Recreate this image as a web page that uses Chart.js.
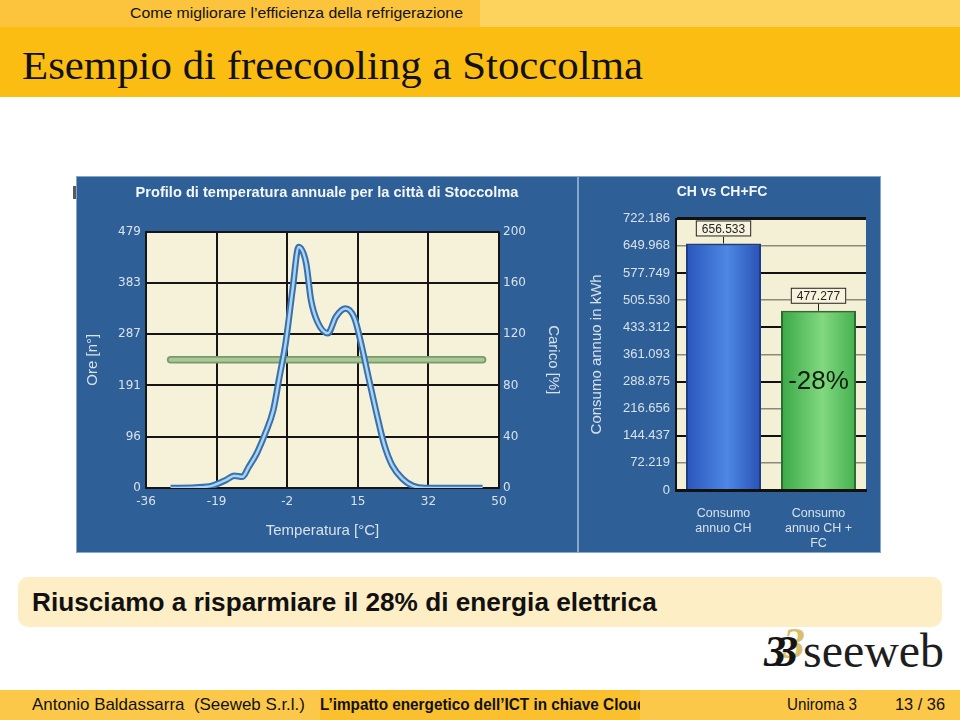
<!DOCTYPE html>
<html lang="it">
<head>
<meta charset="utf-8">
<title>Esempio di freecooling a Stoccolma</title>
<script src="https://cdn.jsdelivr.net/npm/chart.js@4.4.1/dist/chart.umd.min.js"></script>
<style>
  html, body { margin: 0; padding: 0; }
  body { width: 960px; height: 720px; position: relative; overflow: hidden; background: #fff;
         font-family: "Liberation Sans", Arial, sans-serif; color: #111; }
  .abs { position: absolute; }
  .fit { display: inline-block; white-space: nowrap; transform-origin: 0 50%; }
  #testataSx { left: 0; top: 0; width: 480px; height: 27px; background: #fbc43c; }
  #testataDx { left: 480px; top: 0; width: 480px; height: 27px; background: #fdd35e; }
  #sezione { left: 130px; top: 0; line-height: 27px; font-size: 14px; }
  #fascia { left: 0; top: 27px; width: 960px; height: 70px; background: #fbbd12; }
  #titolo { left: 22px; top: 46px; font-family: "Liberation Serif", "Times New Roman", serif; font-size: 40px; line-height: 40px; }
  #puntino { left: 73px; top: 186px; width: 4px; height: 13px; background: #5a5a5a; }
  .pannello { top: 176px; height: 377px; background: #2e6097; }
  .pannello canvas { position: absolute; left: 0; top: 0; }
  .cornice { top: 176px; height: 377px; box-shadow: inset 0 0 0 1px #86a6cc; pointer-events: none; }
  #pannelloT { left: 76px; width: 502px; }
  #pannelloC { left: 578px; width: 303px; }
  #blocco { left: 18px; top: 577px; width: 924px; height: 50px; background: #fdeec6; border-radius: 10px; }
  #bloccoTesto { left: 32px; top: 577px; line-height: 50px; font-size: 25px; font-weight: bold; }
  #logo { left: 803px; top: 627px; font-family: "Liberation Serif", "Times New Roman", serif; font-size: 48px; line-height: 48px; color: #1e1e1e; }
  .tre { font-family: "Liberation Serif", serif; font-style: italic; font-weight: bold; font-size: 44px; line-height: 44px; }
  #piede1 { left: 0; top: 690px; width: 320px; height: 30px; background: #fcc84a; }
  #piede2 { left: 320px; top: 690px; width: 320px; height: 30px; background: #fbc02e; overflow: hidden; }
  #piede3 { left: 640px; top: 690px; width: 320px; height: 30px; background: #fcc84a; }
  .piedeTesto { top: 690px; line-height: 30px; font-size: 17px; }
</style>
</head>
<body>
<div class="abs" id="testataSx"></div>
<div class="abs" id="testataDx"></div>
<div class="abs" id="sezione"><span class="fit" data-w="333">Come migliorare l’efficienza della refrigerazione</span></div>
<div class="abs" id="fascia"></div>
<div class="abs" id="titolo"><span class="fit" data-w="621">Esempio di freecooling a Stoccolma</span></div>

<div class="abs" id="puntino"></div>
<div class="abs pannello" id="pannelloT"><canvas id="graficoTemperatura" width="502" height="377"></canvas></div>
<div class="abs pannello" id="pannelloC"><canvas id="graficoConsumi" width="303" height="377"></canvas></div>
<div class="abs cornice" style="left:76px;width:502px"></div>
<div class="abs cornice" style="left:578px;width:303px"></div>

<div class="abs" id="blocco"></div>
<div class="abs" id="bloccoTesto"><span class="fit" data-w="625">Riusciamo a risparmiare il 28% di energia elettrica</span></div>

<div class="abs tre" style="left:783px;top:622px;color:#d9bf6a">3</div>
<div class="abs tre" style="left:764px;top:630px;color:#151515">3</div>
<div class="abs tre" style="left:776px;top:630px;color:#151515">3</div>
<div class="abs" id="logo"><span class="fit" data-w="141">seeweb</span></div>

<div class="abs" id="piede1"></div>
<div class="abs" id="piede2"><div class="abs" style="left:0;top:0;line-height:30px;font-size:17px;font-weight:bold;white-space:nowrap;transform:scaleX(0.9);transform-origin:0 50%">L’impatto energetico dell’ICT in chiave Cloud Computing</div></div>
<div class="abs" id="piede3"></div>
<div class="abs piedeTesto" style="left:32px"><span class="fit" data-w="273">Antonio Baldassarra&nbsp;&nbsp;(Seeweb S.r.l.)</span></div>
<div class="abs piedeTesto" style="left:787px"><span class="fit" data-w="70">Uniroma 3</span></div>
<div class="abs piedeTesto" style="left:895px"><span class="fit" data-w="50">13 / 36</span></div>

<script>
// Profilo di temperatura (ore per temperatura)
const tempC = [-30, -24, -20, -16.5, -14.5, -12.5, -11, -9, -7, -5, -3.5, -2, -0.3, 1.2, 3, 4.2, 5.8, 8.3, 10.3, 12.6, 14.8, 16.4, 18, 20, 22, 24, 26.5, 29, 32, 46];
const oreH  = [0, 1, 4, 15, 23, 21, 39, 65, 101, 145, 207, 270, 370, 450, 420, 351, 310, 289, 320, 335, 317, 270, 214, 145, 82, 42, 17, 4, 0, 0];
// Carico (asse destro)
const caricoX   = [-30, 46];
const caricoPct = [100, 100];
// Etichette degli assi
const xTicks       = ['-36', '-19', '-2', '15', '32', '50'];
const oreTicks     = ['0', '96', '191', '287', '383', '479'];
const caricoTicks  = ['0', '40', '80', '120', '160', '200'];

// CH vs CH+FC
const categorie     = [['Consumo', 'annuo CH'], ['Consumo', 'annuo CH +', 'FC']];
const consumo       = [656533, 477277];
const consumoMax    = 722186;
const consumoTicks  = ['0', '72.219', '144.437', '216.656', '288.875', '361.093', '433.312', '505.530', '577.749', '649.968', '722.186'];
const risparmio     = '-28%';

const coloriBarre = [['#2a55bb', '#4d88e4', '#2a52b4'], ['#3aa846', '#82d97f', '#45b04f']];
const bordiBarre  = ['#1c3c86', '#2c6b32'];
const chiaro = '#d8e1ec';
const famiglia = '"Liberation Sans", Arial, sans-serif';

Chart.defaults.font.family = famiglia;

function formatta(v) {
  return String(v).replace(/\B(?=(\d{3})+(?!\d))/g, '.');
}

// sfondo crema dell'area del grafico
const sfondoArea = {
  id: 'sfondoArea',
  beforeDraw(chart, args, opts) {
    const a = chart.chartArea;
    const ctx = chart.ctx;
    ctx.save();
    ctx.fillStyle = opts.color;
    ctx.fillRect(a.left, a.top, a.right - a.left, a.bottom - a.top);
    ctx.restore();
  }
};

// etichette con riquadro sopra le barre + percentuale
const etichetteBarre = {
  id: 'etichetteBarre',
  afterDatasetsDraw(chart) {
    const ctx = chart.ctx;
    const meta = chart.getDatasetMeta(0);
    meta.data.forEach((bar, i) => {
      const testo = formatta(consumo[i]);
      ctx.save();
      ctx.font = '12px ' + famiglia;
      const w = ctx.measureText(testo).width + 12;
      const h = 16;
      const top = bar.y - 7 - h;
      ctx.strokeStyle = '#222';
      ctx.lineWidth = 1;
      ctx.beginPath();
      ctx.moveTo(bar.x, top + h);
      ctx.lineTo(bar.x, bar.y);
      ctx.stroke();
      ctx.fillStyle = '#f7f3dc';
      ctx.fillRect(bar.x - w / 2, top, w, h);
      ctx.strokeRect(bar.x - w / 2 + 0.5, top + 0.5, w - 1, h - 1);
      ctx.fillStyle = '#222';
      ctx.textAlign = 'center';
      ctx.textBaseline = 'middle';
      ctx.fillText(testo, bar.x, top + h / 2 + 1);
      if (i === 1) {
        ctx.font = '26px ' + famiglia;
        ctx.fillStyle = '#102010';
        ctx.fillText(risparmio, bar.x, bar.y + (bar.base - bar.y) * 0.4);
      }
      ctx.restore();
    });
  }
};

function tickUniformi(lista) {
  return s => {
    s.ticks = lista.map((_, i) => ({ value: s.min + i * (s.max - s.min) / (lista.length - 1) }));
  };
}

function gradienteBarra(c) {
  const chart = c.chart;
  const cols = coloriBarre[c.dataIndex];
  if (!chart.chartArea) return cols[1];
  const xs = chart.scales.x;
  const cx = xs.getPixelForValue(c.dataIndex);
  const half = xs.width / categorie.length * 0.79 / 2;
  const g = chart.ctx.createLinearGradient(cx - half, 0, cx + half, 0);
  g.addColorStop(0, cols[0]);
  g.addColorStop(0.55, cols[1]);
  g.addColorStop(1, cols[2]);
  return g;
}

const puntiOre = tempC.map((t, i) => ({ x: t, y: oreH[i] }));
const puntiCarico = caricoX.map((t, i) => ({ x: t, y: caricoPct[i] }));

new Chart(document.getElementById('graficoTemperatura'), {
  type: 'line',
  data: {
    datasets: [
      { label: 'Ore', data: puntiOre, yAxisID: 'y', borderColor: '#a8d4f5', borderWidth: 2.5, pointRadius: 0, cubicInterpolationMode: 'monotone' },
      { label: 'Ore (bordo)', data: puntiOre, yAxisID: 'y', borderColor: '#3a70ab', borderWidth: 6.5, pointRadius: 0, cubicInterpolationMode: 'monotone' },
      { label: 'Carico', data: puntiCarico, yAxisID: 'y2', borderColor: '#a8c896', borderWidth: 4, borderCapStyle: 'round', pointRadius: 0 },
      { label: 'Carico (bordo)', data: puntiCarico, yAxisID: 'y2', borderColor: '#7a9a6b', borderWidth: 7.5, borderCapStyle: 'round', pointRadius: 0 }
    ]
  },
  options: {
    responsive: false,
    animation: false,
    layout: { padding: 0 },
    plugins: {
      legend: { display: false },
      tooltip: { enabled: false },
      title: {
        display: true,
        text: 'Profilo di temperatura annuale per la città di Stoccolma',
        color: '#f3f6fa',
        font: { size: 14.6, weight: 'bold', lineHeight: 1.2 },
        padding: { top: 8, bottom: 30 }
      },
      sfondoArea: { color: '#f6f2d9' }
    },
    scales: {
      x: {
        type: 'linear', min: -36, max: 50,
        afterBuildTicks: tickUniformi(xTicks),
        afterFit: s => { s.height = 65; },
        ticks: { callback: (v, i) => xTicks[i], color: chiaro, font: { family: 'DejaVu Sans', size: 12 }, padding: 7, maxRotation: 0, autoSkip: false },
        grid: { color: '#151515', lineWidth: 2, drawTicks: false },
        border: { color: '#151515', width: 2 },
        title: { display: true, text: 'Temperatura [°C]', color: chiaro, font: { size: 15 }, padding: { bottom: 13 } }
      },
      y: {
        min: 0, max: 479,
        afterBuildTicks: tickUniformi(oreTicks),
        afterFit: s => { s.width = 70; },
        ticks: { callback: (v, i) => oreTicks[i], color: chiaro, font: { family: 'DejaVu Sans', size: 12 }, padding: 5, autoSkip: false },
        grid: { color: '#151515', lineWidth: 2, drawTicks: false },
        border: { color: '#151515', width: 2 },
        title: { display: true, text: 'Ore [n°]', color: chiaro, font: { size: 15 }, padding: { top: 8 } }
      },
      y2: {
        position: 'right', min: 0, max: 200,
        afterBuildTicks: tickUniformi(caricoTicks),
        afterFit: s => { s.width = 79; },
        ticks: { callback: (v, i) => caricoTicks[i], color: chiaro, font: { family: 'DejaVu Sans', size: 12 }, padding: 4, autoSkip: false },
        grid: { display: false, drawTicks: false },
        border: { display: false },
        title: { display: true, text: 'Carico [%]', color: chiaro, font: { size: 15 }, padding: { top: 16 } }
      }
    }
  },
  plugins: [sfondoArea]
});

new Chart(document.getElementById('graficoConsumi'), {
  type: 'bar',
  data: {
    labels: categorie,
    datasets: [{
      label: 'Consumo annuo',
      data: consumo,
      backgroundColor: gradienteBarra,
      borderColor: bordiBarre,
      borderWidth: 2,
      barPercentage: 0.79,
      categoryPercentage: 1
    }]
  },
  options: {
    responsive: false,
    animation: false,
    layout: { padding: { right: 15 } },
    plugins: {
      legend: { display: false },
      tooltip: { enabled: false },
      title: {
        display: true,
        text: 'CH vs CH+FC',
        color: '#f3f6fa',
        font: { size: 14, weight: 'bold', lineHeight: 1.2 },
        padding: { top: 8, bottom: 18 }
      },
      sfondoArea: { color: '#f4f0d6' }
    },
    scales: {
      x: {
        afterFit: s => { s.height = 63; },
        grid: { display: false },
        border: { color: '#111', width: 3 },
        ticks: { color: chiaro, font: { size: 12.5, lineHeight: 1.2 }, padding: 8, maxRotation: 0 }
      },
      y: {
        min: 0, max: consumoMax,
        afterBuildTicks: tickUniformi(consumoTicks),
        afterFit: s => { s.width = 98; },
        ticks: { callback: (v, i) => consumoTicks[i], color: chiaro, font: { size: 13 }, padding: 6, autoSkip: false },
        grid: {
          drawTicks: false,
          color: c => (c.index % 2 ? '#8c8a7a' : '#111'),
          lineWidth: c => (c.index === consumoTicks.length - 1 ? 3 : (c.index % 2 ? 1.5 : 2))
        },
        border: { color: '#111', width: 2 },
        title: { display: true, text: 'Consumo annuo in kWh', color: chiaro, font: { size: 15 }, padding: { top: 10 } }
      }
    }
  },
  plugins: [sfondoArea, etichetteBarre]
});

// adatta la larghezza dei testi della slide
document.querySelectorAll('.fit').forEach(el => {
  const w = el.getBoundingClientRect().width;
  el.style.transform = 'scaleX(' + (el.dataset.w / w).toFixed(3) + ')';
});
</script>
</body>
</html>
